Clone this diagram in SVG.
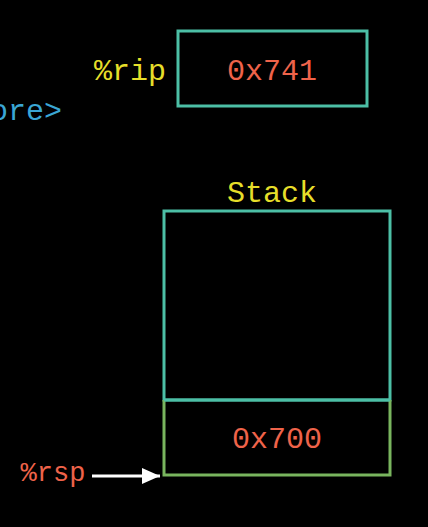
<svg xmlns="http://www.w3.org/2000/svg" width="428" height="527" viewBox="0 0 428 527">
<defs>
<style>
text{font-family:"Liberation Mono","Courier New",monospace;font-size:30px}
.y{fill:#e6de2a}
.r{fill:#ef634a}
.b{fill:#3aa6d4}
.box{fill:none;stroke:#4cbfa6;stroke-width:3}
.g{fill:none;stroke:#79b55e;stroke-width:3}
</style>
<marker id="ah" viewBox="0 0 18 16" refX="18" refY="8" markerWidth="18" markerHeight="16" markerUnits="userSpaceOnUse" orient="auto">
<path d="M0,0 L18,8 L0,16 z" fill="#ffffff"/>
</marker>
</defs>
<rect width="428" height="527" fill="#000"/>
<g id="code-fragment"><text class="b" x="62" y="120" text-anchor="end">ore&gt;</text></g>
<g id="rip">
<text class="y" x="130" y="80" text-anchor="middle">%rip</text>
<rect class="box" x="178" y="31" width="189" height="75"/>
<text class="r" x="272" y="80" text-anchor="middle">0x741</text>
</g>
<g id="stack">
<text class="y" x="272" y="202" text-anchor="middle">Stack</text>
<rect class="box" x="164" y="211" width="226" height="189"/>
</g>
<g id="slot">
<path class="g" d="M164,400 V475 H390 V400"/>
<line x1="164" y1="400" x2="390" y2="400" stroke="#4cbfa6" stroke-width="3"/>
<text class="r" x="277" y="448" text-anchor="middle">0x700</text>
</g>
<g id="rsp"><text class="r" x="53" y="481" text-anchor="middle" style="font-size:27px">%rsp</text></g>
<g id="connectors">
<line x1="92" y1="476" x2="160" y2="476" stroke="#fff" stroke-width="3" marker-end="url(#ah)"/>
</g>
</svg>
